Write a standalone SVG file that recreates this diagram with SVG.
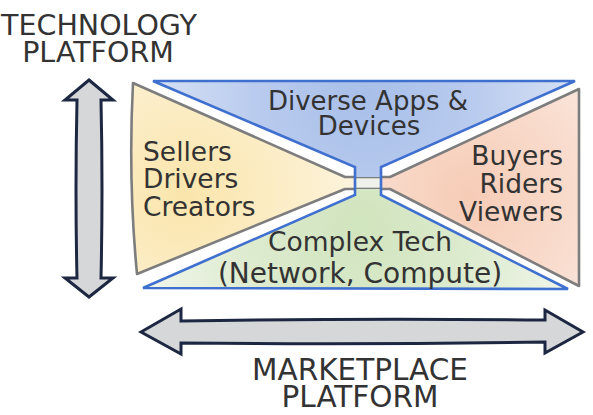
<svg xmlns="http://www.w3.org/2000/svg" width="593" height="415" viewBox="0 0 593 415">
  <style>
    text { font-family: "DejaVu Sans", "Liberation Sans", sans-serif; fill: #333333; }
    .big { font-size: 28.5px; text-anchor: middle; }
    .lbl { font-size: 26.5px; }
    .mid { text-anchor: middle; }
    .end { text-anchor: end; }
    .gray { fill: none; stroke: #7d7d7d; stroke-width: 2.6; stroke-linejoin: round; }
    .blue { fill: none; stroke: #3f6fcf; stroke-width: 2.6; stroke-linejoin: miter; }
    .arrow { fill: #d5d7d9; stroke: #1d2741; stroke-width: 3; stroke-linejoin: miter; }
  </style>
  <defs>
    <radialGradient id="gYellow" gradientUnits="userSpaceOnUse" cx="185" cy="195" r="200">
      <stop offset="0" stop-color="#fae5ab"/>
      <stop offset="0.6" stop-color="#fcefcd"/>
      <stop offset="1" stop-color="#fdf6e6"/>
    </radialGradient>
    <radialGradient id="gOrange" gradientUnits="userSpaceOnUse" cx="470" cy="195" r="190">
      <stop offset="0" stop-color="#f6ccb6"/>
      <stop offset="0.6" stop-color="#f9ddcf"/>
      <stop offset="1" stop-color="#fcede6"/>
    </radialGradient>
    <radialGradient id="gBlue" gradientUnits="userSpaceOnUse" cx="365" cy="95" r="200">
      <stop offset="0" stop-color="#a8bfe9"/>
      <stop offset="0.55" stop-color="#b9cbee"/>
      <stop offset="1" stop-color="#d3def3"/>
    </radialGradient>
    <radialGradient id="gGreen" gradientUnits="userSpaceOnUse" cx="360" cy="225" r="210">
      <stop offset="0" stop-color="#d0e4bd"/>
      <stop offset="0.55" stop-color="#ddebcf"/>
      <stop offset="1" stop-color="#eef5e8"/>
    </radialGradient>
  </defs>
  <rect width="593" height="415" fill="#ffffff"/>

  <g id="sellers">
    <path d="M133,83 L345,177 L368,177 L368,189 L345,189 L137,274 Q128,180 133,83 Z" fill="url(#gYellow)"/>
    <path class="gray" d="M368,177 L345,177 L133,83 Q128,180 137,274 L345,189 L368,189"/>
    <text class="lbl" x="143" y="161">Sellers</text>
    <text class="lbl" x="143" y="188">Drivers</text>
    <text class="lbl" x="143" y="216">Creators</text>
  </g>

  <g id="buyers">
    <path d="M368,177 L390,177 L579,89 L579,286 L390,189 L368,189 Z" fill="url(#gOrange)"/>
    <path class="gray" d="M368,177 L390,177 L579,89 L579,286 L390,189 L368,189"/>
    <text class="lbl end" x="563" y="165">Buyers</text>
    <text class="lbl end" x="563" y="193">Riders</text>
    <text class="lbl end" x="563" y="221">Viewers</text>
  </g>

  <g id="neck">
    <rect x="355" y="177" width="26" height="12" fill="#eef2ea"/>
    <line class="gray" x1="355" y1="177" x2="381" y2="177"/>
    <line class="gray" x1="355" y1="189" x2="381" y2="189"/>
  </g>

  <g id="apps">
    <path d="M153,81 L575,81 L381,167 L381,177 L355,177 L355,167 Z" fill="url(#gBlue)"/>
    <path class="blue" d="M355,177 L355,167 L153,81 L575,81 L381,167 L381,177"/>
    <text class="lbl mid" x="368" y="110" style="font-size:26px">Diverse Apps &amp;</text>
    <text class="lbl mid" x="369" y="135" style="font-size:26px">Devices</text>
  </g>

  <g id="tech">
    <path d="M355,189 L381,189 L381,195 L568,289 L143,288 L355,195 Z" fill="url(#gGreen)"/>
    <path class="blue" d="M355,177 L355,195 L143,288 L568,289 L381,195 L381,177"/>
    <text class="lbl mid" x="360" y="251">Complex Tech</text>
    <text class="lbl mid" x="360" y="283" style="font-size:28px">(Network, Compute)</text>
  </g>

  <g id="tech-label">
    <text class="big" x="99" y="35">TECHNOLOGY</text>
    <text class="big" x="98" y="62">PLATFORM</text>
  </g>

  <g id="market-label">
    <text class="big" x="360" y="380" style="font-size:29.5px">MARKETPLACE</text>
    <text class="big" x="360" y="407" style="font-size:29.5px">PLATFORM</text>
  </g>

  <g id="connectors">
    <path id="tech-axis" class="arrow" d="M89,80 L113,100 L101,100 Q103,190 101,278 L113,278 L89,297 L65,278 L77,278 Q75,190 77,100 L65,100 Z"/>
    <path id="market-axis" class="arrow" d="M141,332 L181,309 L181,321 Q360,318 545,320 L545,310 L583,332 L545,353 L545,342 Q360,345 181,343 L181,354 Z"/>
  </g>
</svg>
